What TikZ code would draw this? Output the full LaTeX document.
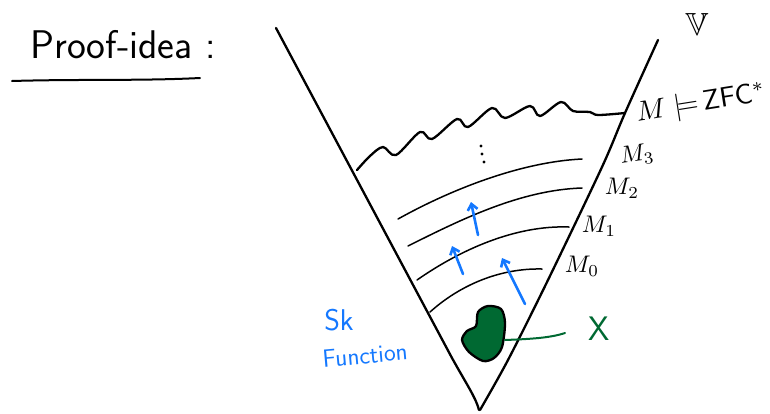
\documentclass[tikz,border=0pt]{standalone}
\usepackage{amssymb}
\usetikzlibrary{arrows.meta}
\definecolor{skblue}{RGB}{20,120,255}
\definecolor{xgreen}{RGB}{0,105,50}
\begin{document}
\begin{tikzpicture}[x=1pt,y=-1pt,
  ink/.style={line width=2.3pt,line cap=round,line join=round},
  level/.style={line width=1.5pt,line cap=round},
  up/.style={skblue,line width=2.6pt,line cap=round,-{Straight Barb[length=6pt,width=10pt]}},
  lab/.style={inner sep=0pt,scale=2.4},
  dot/.style={fill=black,inner sep=0pt,minimum size=3.4pt,circle}]
\useasboundingbox (0,0) rectangle (770,413);
% title
\node[inner sep=0pt, font=\fontsize{40}{40}\selectfont\sffamily, anchor=west] (title) at (30,45) {Proof-idea :};
\coordinate (ulA) at (12,81);
\coordinate (ulB) at (200,78);
\draw[line width=2pt,line cap=round] (ulA) .. controls (80,79) and (140,81) .. (ulB);
% the V
\draw[ink] (276,28) -- (452,358) .. controls (467,385) and (476,398) .. (479,410);
\draw[ink] plot[smooth] coordinates {(658,40) (625,113) (602,167) (548,280) (508,360) (480,410)};
\node[inner sep=0pt, scale=3.2] (V) at (697,24) {$\mathbb{V}$};
% wavy top
\draw[ink] plot[smooth,tension=0.55] coordinates {(357,170) (370,156) (383,147) (396,155) (420,132) (432,139) (457,119) (468,127) (492,108) (505,118) (530,106) (540,116) (561,102) (573,111) (590,112) (598,115) (625,113)};
\node[inner sep=0pt, scale=2.8, rotate=9] (M) at (701,104) {$M\models$\,\textsf{ZFC}$^{*}$};
\node[dot] (d1) at (481,146) {};
\node[dot] (d2) at (482,154) {};
\node[dot] (d3) at (484,162) {};
% levels
\draw[level] (398,219) .. controls (450,190) and (520,162) .. (582,159);
\draw[level] (408,246) .. controls (460,220) and (520,190) .. (582,188);
\draw[level] (417,280) .. controls (460,250) and (515,225) .. (569,227);
\draw[level] (430,312) .. controls (460,285) and (500,268) .. (542,269);
\node[lab, rotate=8] (M3) at (637,155) {$M_3$};
\node[lab] (M2) at (622,188) {$M_2$};
\node[lab] (M1) at (599,226) {$M_1$};
\node[lab] (M0) at (582,266) {$M_0$};
% blue arrows
\coordinate (a1) at (525,304); \coordinate (b1) at (502,258);
\coordinate (a2) at (463,274); \coordinate (b2) at (452,246);
\coordinate (a3) at (478,235); \coordinate (b3) at (471,202);
\draw[up] (a1) -- (b1);
\draw[up] (a2) -- (b2);
\draw[up] (a3) -- (b3);
\node[inner sep=0pt, text=skblue, font=\fontsize{30}{30}\selectfont\sffamily] (sk) at (339,320) {Sk};
\node[inner sep=0pt, text=skblue, font=\fontsize{25}{25}\selectfont\sffamily, rotate=5] (fn) at (365,355) {Function};
% the set X
\draw[line width=2.3pt, fill=xgreen, line join=round] plot[smooth cycle] coordinates {(478,312) (488,306) (501,309) (505,323) (502,347) (494,358) (483,361) (469,352) (462,340) (467,331) (476,326)};
\coordinate (blob) at (505,340);
\node[inner sep=0pt, text=xgreen, font=\fontsize{34}{34}\selectfont\sffamily] (X) at (599,329) {X};
\draw[xgreen, line width=2pt, line cap=round] (blob) .. controls (530,339) and (550,338) .. (565,333);
\end{tikzpicture}
\end{document}
